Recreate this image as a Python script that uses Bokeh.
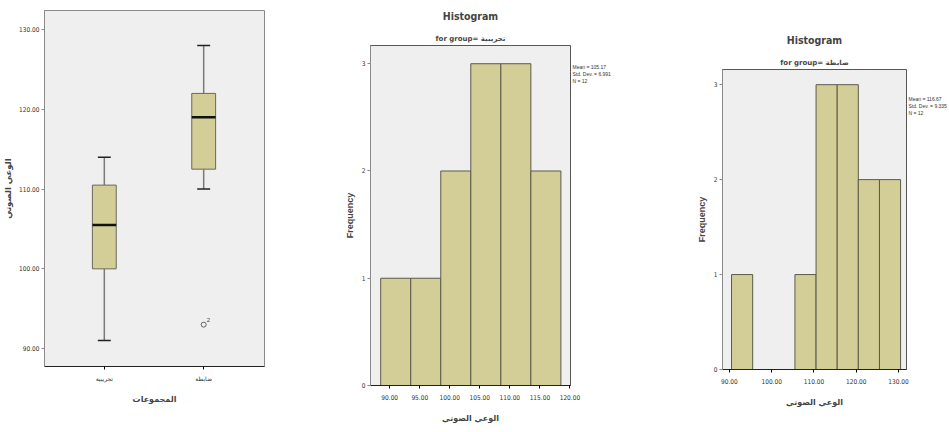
from bokeh.plotting import figure
from bokeh.layouts import row
from bokeh.models import (FixedTicker, NumeralTickFormatter, Range1d, Title, LinearAxis)
from bokeh.embed import file_html
from bokeh.resources import INLINE

# ---------------- data ----------------
box_groups = ["تجريبية", "ضابطة"]
box_pos = [1, 2]
box_low = [91, 110]
box_q1 = [100, 112.5]
box_median = [105.5, 119]
box_q3 = [110.5, 122]
box_high = [114, 128]
outlier_pos = [2]
outlier_val = [93]
outlier_id = ["2"]
box_yticks = [90, 100, 110, 120, 130]

hist1_edges = [88.5, 93.5, 98.5, 103.5, 108.5, 113.5, 118.5]
hist1_counts = [1, 1, 2, 3, 3, 2]
hist1_xticks = [90, 95, 100, 105, 110, 115, 120]
hist1_stats = ["Mean = 105.17", "Std. Dev. = 6.991", "N = 12"]
hist1_group = "تجريبية"

hist2_edges = [90.5, 95.5, 100.5, 105.5, 110.5, 115.5, 120.5, 125.5, 130.5]
hist2_counts = [1, 0, 0, 1, 3, 3, 2, 2]
hist2_xticks = [90, 100, 110, 120, 130]
hist2_stats = ["Mean = 116.67", "Std. Dev. = 9.335", "N = 12"]
hist2_group = "ضابطة"

freq_ticks = [0, 1, 2, 3]

y_title = "الوعي الصوتي"
x_title_box = "المجموعات"
x_title_hist = "الوعي الصوتي"

# ---------------- style ----------------
NARROW = "DejaVu Sans Condensed, Liberation Sans"
SANS = "Liberation Sans"
ARABIC = "DejaVu Sans"
BG = "#efefef"
FILL = "#d3ce98"
BARLINE = "#5b5a48"


def style_axes(p):
    p.background_fill_color = BG
    p.border_fill_color = "white"
    p.xgrid.visible = False
    p.ygrid.visible = False
    p.outline_line_color = "#8a8a8a"
    p.outline_line_width = 1
    for ax in (p.xaxis[0], p.yaxis[0]):
        ax.minor_tick_line_color = None
        ax.major_tick_in = 0
        ax.major_tick_out = 3
        ax.major_label_text_font = NARROW
        ax.major_label_text_font_size = "6.5px"
        ax.major_label_text_color = "#333333"
        ax.major_label_standoff = 2
    p.yaxis.axis_line_color = "#8a8a8a"
    p.yaxis.major_tick_line_color = "#8a8a8a"
    p.xaxis.axis_line_color = "#222222"
    p.xaxis.axis_line_width = 1.2


# ---------------- box plot ----------------
p1 = figure(width=300, height=432, output_backend="svg", toolbar_location=None,
            x_range=Range1d(0.398, 2.612), y_range=Range1d(87.75, 132.4),
            min_border_left=36, min_border_right=36, min_border_top=10,
            min_border_bottom=66, frame_align=False)
style_axes(p1)
p1.yaxis.ticker = FixedTicker(ticks=box_yticks)
p1.yaxis.formatter = NumeralTickFormatter(format="0.00")
p1.xaxis.ticker = FixedTicker(ticks=box_pos)
p1.xaxis.major_label_overrides = {box_pos[i]: box_groups[i] for i in range(2)}
p1.xaxis.major_label_text_font = ARABIC
p1.xaxis.major_label_text_font_size = "6px"
p1.xaxis.major_label_standoff = 5
p1.yaxis.axis_label = y_title
p1.yaxis.axis_label_text_font = ARABIC
p1.yaxis.axis_label_text_font_size = "8.5px"
p1.yaxis.axis_label_text_font_style = "bold"
p1.yaxis.axis_label_standoff = 3
p1.xaxis.axis_label = x_title_box
p1.xaxis.axis_label_text_font = ARABIC
p1.xaxis.axis_label_text_font_size = "8px"
p1.xaxis.axis_label_text_font_style = "bold"
p1.xaxis.axis_label_standoff = 10

hw = 0.12
capw = 0.065
p1.segment(x0=box_pos, y0=box_low, x1=box_pos, y1=box_q1, line_color="#7a7a7a", line_width=1.5)
p1.segment(x0=box_pos, y0=box_q3, x1=box_pos, y1=box_high, line_color="#7a7a7a", line_width=1.5)
p1.segment(x0=[x - capw for x in box_pos], y0=box_low, x1=[x + capw for x in box_pos], y1=box_low,
           line_color="#222222", line_width=1.5)
p1.segment(x0=[x - capw for x in box_pos], y0=box_high, x1=[x + capw for x in box_pos], y1=box_high,
           line_color="#222222", line_width=1.5)
p1.quad(left=[x - hw for x in box_pos], right=[x + hw for x in box_pos], bottom=box_q1, top=box_q3,
        fill_color=FILL, line_color="#6a6a5a", line_width=1)
p1.segment(x0=[x - hw for x in box_pos], y0=box_median, x1=[x + hw for x in box_pos], y1=box_median,
           line_color="#111111", line_width=2.5)
p1.scatter(x=outlier_pos, y=outlier_val, marker="circle", size=5, fill_color=None,
           line_color="#444444", line_width=0.8)
p1.text(x=outlier_pos, y=outlier_val, text=outlier_id, x_offset=3, y_offset=-3,
        text_font_size="6px", text_color="#444444", text_baseline="bottom")


# ---------------- histograms ----------------
def histogram(width, height, edges, counts, xticks, x_range, y_range, borders, stats, group,
              stats_top_px, px_per_unit):
    p = figure(width=width, height=height, output_backend="svg", toolbar_location=None,
               x_range=Range1d(*x_range), y_range=Range1d(*y_range),
               min_border_left=borders[0], min_border_right=borders[1],
               min_border_top=borders[2], min_border_bottom=borders[3], frame_align=False)
    style_axes(p)
    p.outline_line_color = "#555555"
    p.xaxis.ticker = FixedTicker(ticks=xticks)
    p.xaxis.formatter = NumeralTickFormatter(format="0.00")
    p.xaxis.major_label_standoff = 6
    p.yaxis.ticker = FixedTicker(ticks=freq_ticks)
    p.yaxis.axis_label = "Frequency"
    p.yaxis.axis_label_text_font = SANS
    p.yaxis.axis_label_text_font_size = "9px"
    p.yaxis.axis_label_text_font_style = "bold"
    p.yaxis.axis_label_standoff = 4
    p.xaxis.axis_label = x_title_hist
    p.xaxis.axis_label_text_font = ARABIC
    p.xaxis.axis_label_text_font_size = "8px"
    p.xaxis.axis_label_text_font_style = "bold"
    p.xaxis.axis_label_standoff = 11
    left = [edges[i] for i in range(len(counts)) if counts[i] > 0]
    right = [edges[i + 1] for i in range(len(counts)) if counts[i] > 0]
    top = [counts[i] for i in range(len(counts)) if counts[i] > 0]
    p.quad(left=left, right=right, bottom=0, top=top, fill_color=FILL,
           line_color=BARLINE, line_width=1)
    p.add_layout(Title(text="for group= " + group, align="center", text_font=ARABIC,
                       text_font_size="7px", text_font_style="bold", standoff=6), "above")
    p.add_layout(Title(text="Histogram", align="center", text_font=NARROW,
                       text_font_size="10.5px", text_font_style="bold", standoff=15), "above")
    # statistics box text, placed as an unlined axis on the right of the frame
    stat_y = [y_range[1] - (stats_top_px + 7 * i) / px_per_unit for i in range(len(stats))]
    sax = LinearAxis(ticker=FixedTicker(ticks=stat_y),
                     major_label_overrides={stat_y[i]: stats[i] for i in range(len(stats))},
                     axis_line_color=None, major_tick_line_color=None, minor_tick_line_color=None,
                     major_tick_in=0, major_tick_out=0, axis_label_standoff=0,
                     major_label_text_font=SANS, major_label_text_font_size="5px",
                     major_label_text_color="#333333", major_label_standoff=2)
    p.add_layout(sax, "right")
    return p


p2 = histogram(340, 432, hist1_edges, hist1_counts, hist1_xticks, (86.8, 120.1), (0, 3.17),
               (70, 70, 43, 47), hist1_stats, hist1_group, 22, 107.7)
p3 = histogram(309, 432, hist2_edges, hist2_counts, hist2_xticks, (88.36, 131.9), (0, 3.16),
               (82, 41, 69, 63), hist2_stats, hist2_group, 30, 95.3)

layout = row(p1, p2, p3, spacing=0)
open("out.html", "w").write(file_html(layout, INLINE))
